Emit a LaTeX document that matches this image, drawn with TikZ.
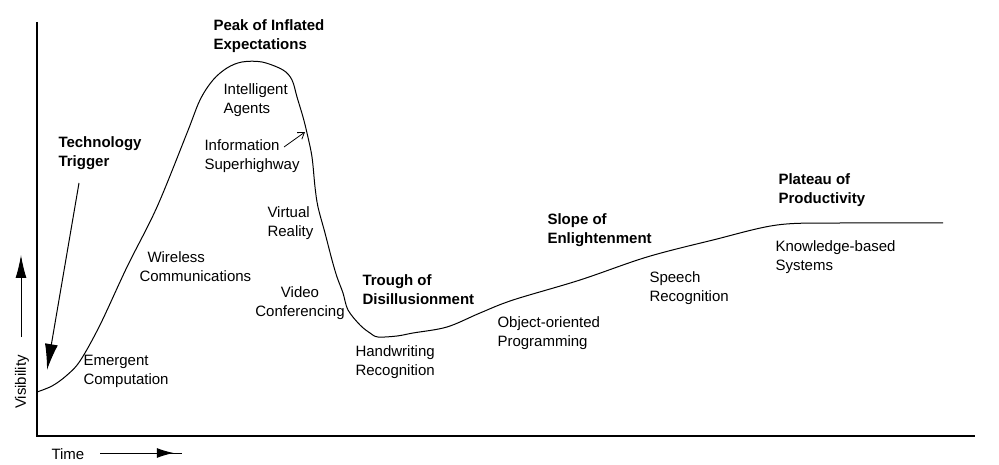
\documentclass[tikz,border=0pt]{standalone}
\usepackage{fontspec}
\setmainfont{Liberation Sans}
\usetikzlibrary{arrows.meta}
\usetikzlibrary{decorations.markings}
\tikzset{bigtip/.style = {decoration={markings,
                                  mark=at position #1 with {\arrow{Latex[length=17pt,width=10pt]}}},
                      postaction={decorate}}}
\tikzset{lbl/.style = {anchor=north west, align=left, inner sep=0, font=\fontsize{15}{19}\selectfont}}
\tikzset{hdr/.style = {lbl, font=\fontsize{15}{19}\selectfont\bfseries}}

\begin{document}
\begin{tikzpicture}[x=1pt, y=-1pt, line width=1pt]
  \useasboundingbox (0,0) rectangle (999,465);

  % axes
  \draw [line width=1.4pt] (37,22) -- (37,436) -- (975,436);

  % hype curve
  \draw plot [smooth, tension=0.55] coordinates {
    (37,392) (52,386) (66,376) (80,361) (100,325) (127,267) (157,207)
    (187,133) (200,100) (213,80) (227,68) (242,62) (262,62) (283,70)
    (292,80) (297,97) (303,117) (307,133) (312,157) (315,187) (318,207)
    (325,233) (332,260) (337,277) (343,293) (348,310) (360,325) (370,333)
    (378,337) (397,336) (413,333) (447,327) (480,313) (513,300) (580,280)
    (647,257) (713,240) (777,225) (840,223) (943,223)};

  % phases
  \node [hdr] (peak) at (213,19) {Peak of Inflated\\Expectations};
  \node [hdr] (trig) at (58,136) {Technology\\Trigger};
  \node [hdr] (trough) at (362,274) {Trough of\\Disillusionment};
  \node [hdr] (slope) at (547,213) {Slope of\\Enlightenment};
  \node [hdr] (plat) at (778,173) {Plateau of\\Productivity};

  % technologies
  \node [lbl] (agents) at (223,83) {Intelligent\\Agents};
  \node [lbl] (info) at (204,139) {Information\\Superhighway};
  \node [lbl] (vr) at (267,206) {Virtual\\Reality};
  \node [lbl] (wire) at (139,251) {\hspace*{8pt}Wireless\\Communications};
  \node [lbl, anchor=north, align=center] (video) at (300,286) {Video\\Conferencing};
  \node [lbl] (emerg) at (83,355) {Emergent\\Computation};
  \node [lbl] (hand) at (355,345) {Handwriting\\Recognition};
  \node [lbl] (oop) at (497,316) {Object-oriented\\Programming};
  \node [lbl] (speech) at (649,271) {Speech\\Recognition};
  \node [lbl] (know) at (775,240) {Knowledge-based\\Systems};

  % axis labels
  \node [lbl] (time) at (51,448) {Time};
  \node [lbl, anchor=center, rotate=90] (vis) at (22,382) {Visibility};

  % arrows
  \coordinate (trigA) at (79,183);
  \coordinate (trigB) at (47,370);
  \coordinate (infoA) at (284,147);
  \coordinate (infoB) at (305,132);
  \coordinate (visA) at (21,337);
  \coordinate (visB) at (21,255);
  \coordinate (timeA) at (100,453);
  \coordinate (timeB) at (182,453);

  \draw [-{Latex[length=26pt,width=13pt]}] (trigA) -- (trigB);
  \draw [line width=0.8pt, -{Straight Barb[length=6pt,width=8pt]}] (infoA) -- (infoB);
  \draw [-{Latex[length=23pt,width=11pt]}] (visA) -- (visB);
  \draw [bigtip=0.9] (timeA) -- (timeB);
\end{tikzpicture}
\end{document}
